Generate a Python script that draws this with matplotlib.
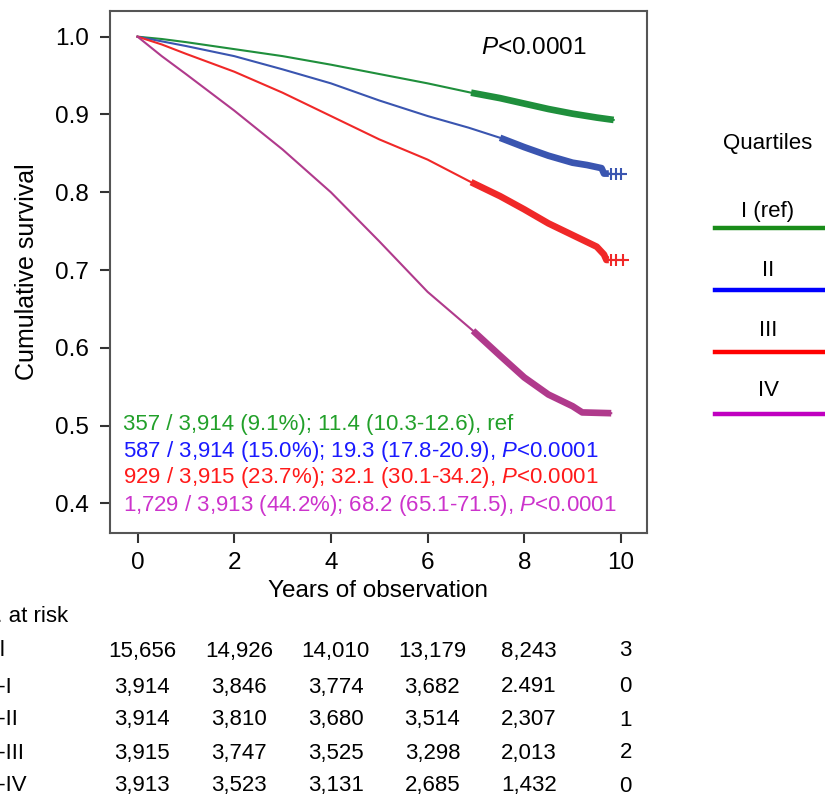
import numpy as np
import matplotlib
matplotlib.use("Agg")
from matplotlib import pyplot as plt
from matplotlib.transforms import blended_transform_factory

plt.rcParams['font.family'] = ['Liberation Sans', 'DejaVu Sans']
plt.rcParams['mathtext.fontset'] = 'custom'
plt.rcParams['mathtext.rm'] = 'Liberation Sans'
plt.rcParams['mathtext.it'] = 'Liberation Sans:italic'

# survival curves (years, cumulative survival)
t_q1 = [0, 0.5, 1, 2, 3, 4, 5, 6, 6.9, 7.5, 8, 8.5, 9, 9.5, 9.85]
s_q1 = [1.0, 0.997, 0.993, 0.984, 0.975, 0.964, 0.952, 0.94, 0.928, 0.921, 0.914, 0.907, 0.901, 0.896, 0.893]
t_q2 = [0, 0.5, 1, 2, 3, 4, 5, 6, 6.85, 7.5, 8, 8.5, 9, 9.3, 9.6, 9.65, 9.75]
s_q2 = [1.0, 0.994, 0.988, 0.975, 0.958, 0.94, 0.918, 0.898, 0.883, 0.87, 0.858, 0.847, 0.838, 0.835, 0.831, 0.824, 0.824]
t_q3 = [0, 0.5, 1, 2, 3, 4, 5, 6, 6.9, 7.5, 8, 8.5, 9, 9.5, 9.65, 9.7, 9.75]
s_q3 = [1.0, 0.99, 0.978, 0.955, 0.928, 0.898, 0.868, 0.842, 0.813, 0.795, 0.778, 0.76, 0.745, 0.73, 0.72, 0.713, 0.713]
t_q4 = [0, 0.5, 1, 2, 3, 4, 5, 6, 6.94, 7.5, 8, 8.5, 9, 9.2, 9.8]
s_q4 = [1.0, 0.975, 0.952, 0.905, 0.855, 0.80, 0.737, 0.672, 0.622, 0.59, 0.562, 0.54, 0.525, 0.517, 0.516]

# censor marks at the tail ends
cens_t_q2 = [9.8, 9.9, 10.0]
cens_t_q3 = [9.8, 9.9, 10.05]

curve_colors = ['#1f8f3c', '#3a55b0', '#f02828', '#b03a8c']
text_colors = ['#22a02a', '#1a1aff', '#ff1a1a', '#cc33cc']
legend_colors = ['#1a8c1a', '#0000ff', '#ff0000', '#c000c0']
legend_labels = ['I (ref)', 'II', 'III', 'IV']

annot = ['357 / 3,914 (9.1%); 11.4 (10.3-12.6), ref',
         '587 / 3,914 (15.0%); 19.3 (17.8-20.9), $\\mathit{P}$<0.0001',
         '929 / 3,915 (23.7%); 32.1 (30.1-34.2), $\\mathit{P}$<0.0001',
         '1,729 / 3,913 (44.2%); 68.2 (65.1-71.5), $\\mathit{P}$<0.0001']

risk_years = [0, 2, 4, 6, 8, 10]
risk_labels = ['All', 'Q-I', 'Q-II', 'Q-III', 'Q-IV']
risk_all = ['15,656', '14,926', '14,010', '13,179', '8,243', '3']
risk_q1 = ['3,914', '3,846', '3,774', '3,682', '2.491', '0']
risk_q2 = ['3,914', '3,810', '3,680', '3,514', '2,307', '1']
risk_q3 = ['3,915', '3,747', '3,525', '3,298', '2,013', '2']
risk_q4 = ['3,913', '3,523', '3,131', '2,685', '1,432', '0']

W, H = 825, 806
fig = plt.figure(figsize=(W / 100, H / 100), dpi=100)
ax = fig.add_axes([110 / W, 1 - 533 / H, (647 - 110) / W, (533 - 11) / H])

curves = [(t_q1, s_q1), (t_q2, s_q2), (t_q3, s_q3), (t_q4, s_q4)]
for (t, s), c in zip(curves, curve_colors):
    t = np.array(t)
    s = np.array(s)
    ax.plot(t, s, color=c, lw=1.5, solid_joinstyle='round')
    m = t >= 6.9
    ax.plot(t[m], s[m], color=c, lw=4.8, solid_capstyle='butt')

ax.plot(cens_t_q2, [s_q2[-1]] * len(cens_t_q2), ls='-', lw=1.4, marker='+', ms=8, mew=1.5, color=curve_colors[1])
ax.plot(cens_t_q3, [s_q3[-1]] * len(cens_t_q3), ls='-', lw=1.4, marker='+', ms=8, mew=1.5, color=curve_colors[2])

ax.set_xlim(-0.57, 10.54)
ax.set_ylim(0.362, 1.033)
ax.set_xticks(risk_years)
ax.set_yticks([0.4, 0.5, 0.6, 0.7, 0.8, 0.9, 1.0])
ax.set_yticklabels(['0.4', '0.5', '0.6', '0.7', '0.8', '0.9', '1.0'])
ax.tick_params(labelsize=17.5, length=7, width=1.5, color='#333333')
ax.tick_params(axis='y', pad=8)
ax.tick_params(axis='x', pad=7)
for sp in ax.spines.values():
    sp.set_color('#555555')
    sp.set_linewidth(1.5)
ax.set_xlabel('Years of observation', fontsize=17.5, labelpad=4)
ax.set_ylabel('Cumulative survival', fontsize=18, labelpad=12)

ax.text(7.1, 0.986, '$\\mathit{P}$<0.0001', fontsize=17.5, ha='left', va='center')

ann_y = [0.502, 0.467, 0.433, 0.397]
for txt, y, c in zip(annot, ann_y, text_colors):
    ax.text(-0.3, y, txt, color=c, fontsize=16, ha='left', va='center')

# legend on the right
fig.text(768 / W, 1 - 143 / H, 'Quartiles', fontsize=16, ha='center', va='center')
leg_text_y = [212, 270, 330, 390]
leg_line_y = [228, 290, 352, 414]
for lab, ty, ly, c in zip(legend_labels, leg_text_y, leg_line_y, legend_colors):
    fig.text(768 / W, 1 - ty / H, lab, fontsize=16, ha='center', va='center')
    fig.add_artist(plt.Line2D([715 / W, 1.0], [1 - ly / H] * 2, color=c, lw=3.2, transform=fig.transFigure))

# numbers at risk table (labels run off the left edge as in the reference)
tab_fs = 16
tr = blended_transform_factory(ax.transData, fig.transFigure)
fig.text(68 / W, 1 - 617 / H, 'No. at risk', fontsize=tab_fs, ha='right', va='center')
rows = [risk_all, risk_q1, risk_q2, risk_q3, risk_q4]
row_y = [651, 687, 720, 753, 786]
for lab, row, y in zip(risk_labels, rows, row_y):
    fig.text(-19 / W, 1 - y / H, lab, fontsize=tab_fs, ha='left', va='center')
    for yr, v in zip(risk_years, row):
        ax.text(yr + 0.1, 1 - y / H, v, fontsize=tab_fs, ha='center', va='center', transform=tr, clip_on=False)

fig.savefig('out.png', dpi=100)
